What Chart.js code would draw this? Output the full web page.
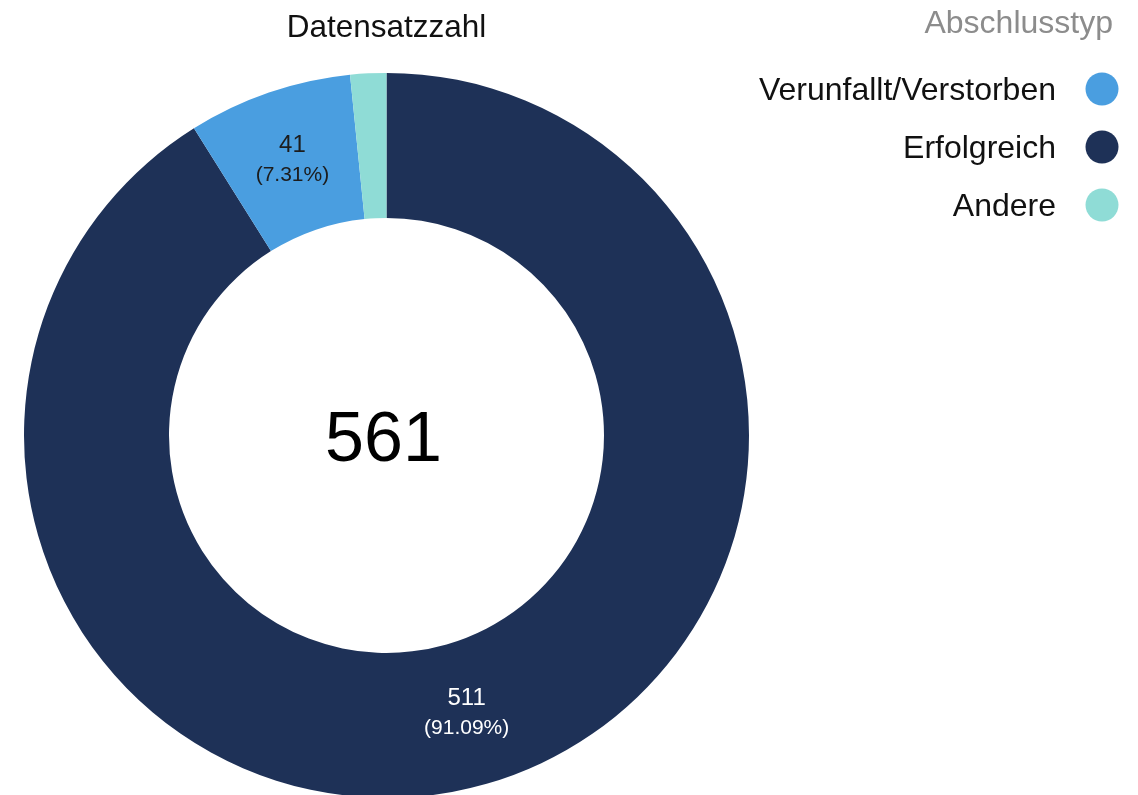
<!DOCTYPE html>
<html>
<head>
<meta charset="utf-8">
<title>Datensatzzahl</title>
<script src="https://cdn.jsdelivr.net/npm/chart.js@4.4.1/dist/chart.umd.min.js"></script>
<style>
    html, body { margin: 0; padding: 0; background: #fff; overflow: hidden; }
    #wrap { position: relative; width: 1138px; height: 800px; }
</style>
</head>
<body>
<div id="wrap"><canvas id="chart"></canvas></div>
<script>
const categories = ["Erfolgreich", "Verunfallt/Verstorben", "Andere"];
const counts = [511, 41, 9];
const sliceColors = ["#1e3157", "#4a9ee0", "#8fdcd6"];
const labelColors = ["#ffffff", "#1c1c1c", "#1c1c1c"];
const legendOrder = ["Verunfallt/Verstorben", "Erfolgreich", "Andere"];
const chartTitle = "Datensatzzahl";
const legendTitle = "Abschlusstyp";

const FONT = '"Liberation Sans", Arial, Helvetica, sans-serif';

document.addEventListener("DOMContentLoaded", function() {
    const total = counts.reduce((a, b) => a + b, 0);

    // value + percentage inside the bigger slices
    const sliceLabels = {
        id: "sliceLabels",
        afterDatasetsDraw(chart) {
            const ctx = chart.ctx;
            const meta = chart.getDatasetMeta(0);
            ctx.save();
            ctx.textAlign = "center";
            ctx.textBaseline = "alphabetic";
            meta.data.forEach((arc, i) => {
                const share = counts[i] / total;
                if (share < 0.05) return;
                const p = arc.tooltipPosition();
                ctx.fillStyle = labelColors[i];
                ctx.font = "24px " + FONT;
                ctx.fillText(String(counts[i]), p.x, p.y - 9);
                ctx.font = "21px " + FONT;
                ctx.fillText("(" + (share * 100).toFixed(2) + "%)", p.x, p.y + 20);
            });
            ctx.restore();
        }
    };

    // total in the hole
    const centerTotal = {
        id: "centerTotal",
        afterDraw(chart) {
            const arc = chart.getDatasetMeta(0).data[0];
            if (!arc) return;
            const ctx = chart.ctx;
            ctx.save();
            ctx.fillStyle = "#000";
            ctx.font = "70px " + FONT;
            ctx.textAlign = "center";
            ctx.textBaseline = "alphabetic";
            ctx.fillText(String(total), arc.x - 3, arc.y + 26);
            ctx.restore();
        }
    };

    // legend on the right: text right aligned, dot on the right
    const sideLegend = {
        id: "sideLegend",
        afterDraw(chart) {
            const ctx = chart.ctx;
            const w = chart.width;
            ctx.save();
            ctx.textAlign = "right";
            ctx.textBaseline = "alphabetic";
            ctx.fillStyle = "#8c8c8c";
            ctx.font = "32px " + FONT;
            ctx.fillText(legendTitle, w - 25, 33);
            ctx.font = "32px " + FONT;
            legendOrder.forEach((name, i) => {
                const idx = categories.indexOf(name);
                const cy = 89 + i * 58;
                ctx.fillStyle = "#111";
                ctx.fillText(name, w - 82, cy + 11);
                ctx.fillStyle = sliceColors[idx];
                ctx.beginPath();
                ctx.arc(w - 36, cy, 16.5, 0, Math.PI * 2);
                ctx.fill();
            });
            ctx.restore();
        }
    };

    const ctx = document.getElementById("chart").getContext("2d");
    new Chart(ctx, {
        type: "doughnut",
        data: {
            labels: categories,
            datasets: [{
                data: counts,
                backgroundColor: sliceColors,
                borderWidth: 0
            }]
        },
        options: {
            responsive: true,
            maintainAspectRatio: false,
            animation: false,
            cutout: "60%",
            layout: {
                padding: { left: 24, right: 389, top: 0, bottom: 2 }
            },
            plugins: {
                legend: { display: false },
                tooltip: { enabled: false },
                title: {
                    display: true,
                    text: chartTitle,
                    fullSize: false,
                    color: "#111",
                    font: { family: FONT, size: 31.5, weight: "normal" },
                    padding: { top: 9, bottom: 26 }
                }
            }
        },
        plugins: [sliceLabels, centerTotal, sideLegend]
    });
});
</script>
</body>
</html>
